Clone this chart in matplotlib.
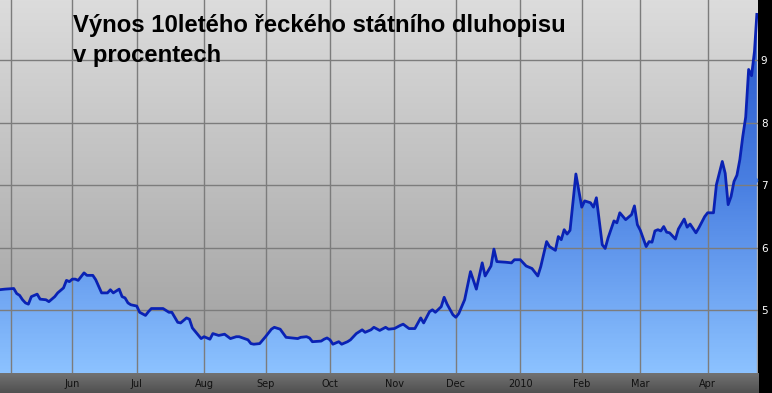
import numpy as np
import matplotlib.pyplot as plt
from matplotlib.colors import LinearSegmentedColormap
from matplotlib.patches import Polygon

# Greek 10y bond yield, x = trading day counted from 1 May 2009
days = [-4, -2, 1, 2, 3, 4, 5, 6, 7, 9, 10, 12, 13, 15, 16, 18, 19, 20, 21, 22,
        23, 25, 26, 28, 29, 31, 33, 34, 35, 37, 38, 39, 40, 41, 43, 44, 46, 47, 48, 50,
        52, 54, 55, 57, 58, 60, 61, 62, 65, 66, 68, 69, 71, 73, 75, 77, 78, 81, 82, 83,
        85, 87, 89, 90, 92, 94, 96, 98, 99, 101, 102, 103, 106, 107, 108, 109, 110, 112, 113, 115,
        116, 118, 120, 121, 123, 124, 126, 128, 129, 131, 133, 134, 136, 138, 140, 141, 143, 144, 145, 147,
        148, 149, 151, 152, 153, 155, 157, 159, 161, 162, 164, 165, 166, 169, 171, 172, 174, 176, 178, 180,
        181, 183, 184, 186, 187, 188, 189, 190, 191, 193, 195, 196, 198, 199, 200, 202, 203, 204, 206, 207,
        208, 210, 212, 213, 214, 215, 217, 218, 219, 220, 221, 222, 223, 224, 225, 227, 228, 230, 231, 232,
        234, 235, 237, 238, 240, 241, 243, 244, 245, 246, 247, 248, 249, 250, 251, 252, 253, 254, 254.8]
yields = [5.33, 5.34, 5.35, 5.27, 5.24, 5.17, 5.12, 5.10, 5.22, 5.26, 5.18, 5.17, 5.14, 5.22, 5.28, 5.36, 5.48, 5.46, 5.50, 5.50,
          5.48, 5.60, 5.56, 5.56, 5.49, 5.28, 5.28, 5.33, 5.28, 5.34, 5.22, 5.20, 5.12, 5.09, 5.07, 4.97, 4.92, 4.98, 5.03, 5.03,
          5.03, 4.97, 4.97, 4.81, 4.80, 4.88, 4.86, 4.72, 4.55, 4.58, 4.54, 4.63, 4.60, 4.62, 4.55, 4.58, 4.58, 4.53, 4.47, 4.46,
          4.47, 4.58, 4.70, 4.73, 4.70, 4.57, 4.56, 4.55, 4.57, 4.58, 4.56, 4.50, 4.51, 4.54, 4.56, 4.53, 4.46, 4.50, 4.46, 4.50,
          4.53, 4.63, 4.69, 4.65, 4.69, 4.73, 4.68, 4.73, 4.70, 4.71, 4.76, 4.78, 4.71, 4.71, 4.88, 4.80, 4.98, 5.01, 4.97, 5.06,
          5.21, 5.10, 4.93, 4.89, 4.95, 5.17, 5.62, 5.34, 5.76, 5.55, 5.71, 5.98, 5.78, 5.77, 5.76, 5.81, 5.81, 5.71, 5.67, 5.55,
          5.70, 6.10, 6.02, 5.96, 6.18, 6.13, 6.29, 6.22, 6.28, 7.18, 6.65, 6.75, 6.72, 6.65, 6.80, 6.05, 5.99, 6.16, 6.43, 6.40,
          6.56, 6.45, 6.53, 6.67, 6.37, 6.28, 6.02, 6.10, 6.09, 6.27, 6.29, 6.27, 6.34, 6.25, 6.24, 6.14, 6.30, 6.46, 6.33, 6.38,
          6.24, 6.32, 6.50, 6.56, 6.56, 7.01, 7.38, 7.19, 6.69, 6.82, 7.06, 7.16, 7.41, 7.78, 8.09, 8.85, 8.75, 9.14, 9.73]

month_pos = [0, 21, 43, 66, 87, 109, 131, 152, 174, 195, 215, 238]
month_labels = ["", "Jun", "Jul", "Aug", "Sep", "Oct", "Nov", "Dec", "2010", "Feb", "Mar", "Apr"]
y_ticks = [5, 6, 7, 8, 9]

x0, x1 = -3.7, 255.2
y0, y1 = 4.0, 9.96

W, H = 772, 393
fig = plt.figure(figsize=(W / 100, H / 100), dpi=100, facecolor="black")

ax_h = (H - 373) / H
ax_w = 758 / W

# bottom grey bar under the plot
bar = fig.add_axes([0, 0, ax_w + 1 / W, ax_h])
bar_cmap = LinearSegmentedColormap.from_list("bar", ["#727272", "#505050"])
bar.imshow(np.linspace(0, 1, 50).reshape(-1, 1), cmap=bar_cmap, aspect="auto",
           extent=[0, 1, 0, 1])
bar.set_axis_off()

ax = fig.add_axes([0, ax_h, ax_w, 1 - ax_h])
ax.set_xlim(x0, x1)
ax.set_ylim(y0, y1)

# grey background gradient
bg_cmap = LinearSegmentedColormap.from_list("bg", ["#dcdcdc", "#9e9e9e"])
ax.imshow(np.linspace(0, 1, 200).reshape(-1, 1), cmap=bg_cmap, aspect="auto",
          extent=[x0, x1, y0, y1], zorder=0)

# blue fill gradient clipped to area under the line
fill_cmap = LinearSegmentedColormap.from_list("fill", ["#2452c8", "#4a80e2", "#8cc2ff"])
im = ax.imshow(np.linspace(0, 1, 200).reshape(-1, 1), cmap=fill_cmap, aspect="auto",
               extent=[x0, x1, y0, y1], zorder=1)
verts = [(days[0], y0)] + list(zip(days, yields)) + [(days[-1], y0)]
poly = Polygon(verts, closed=True, facecolor="none", edgecolor="none")
ax.add_patch(poly)
im.set_clip_path(poly)

ax.set_xticks(month_pos)
ax.set_xticklabels(month_labels)
ax.set_yticks(y_ticks)
ax.grid(True, color="#7c7c7c", linewidth=1, zorder=2)
ax.set_axisbelow(False)
for gl in ax.get_xgridlines() + ax.get_ygridlines():
    gl.set_zorder(2)

ax.plot(days, yields, color="#0a22b4", linewidth=2, zorder=3, solid_joinstyle="round")
ax.plot([254.2], [7.09], "o", color="#4a7ee0", markersize=3, zorder=3)

ax.yaxis.tick_right()
ax.tick_params(axis="y", length=0, pad=2, colors="white", labelsize=7.5)
ax.tick_params(axis="x", length=0, pad=4, labelcolor="#111111", labelsize=7)
for s in ax.spines.values():
    s.set_visible(False)

fig.text(73 / W, 1 - 32.3 / H, "Výnos 10letého řeckého státního dluhopisu",
         fontsize=17.2, fontweight="bold", family="Liberation Sans", color="black", va="baseline")
fig.text(73 / W, 1 - 61.7 / H, "v procentech",
         fontsize=17.2, fontweight="bold", family="Liberation Sans", color="black", va="baseline")

fig.savefig("out.png", dpi=100, facecolor="black")
